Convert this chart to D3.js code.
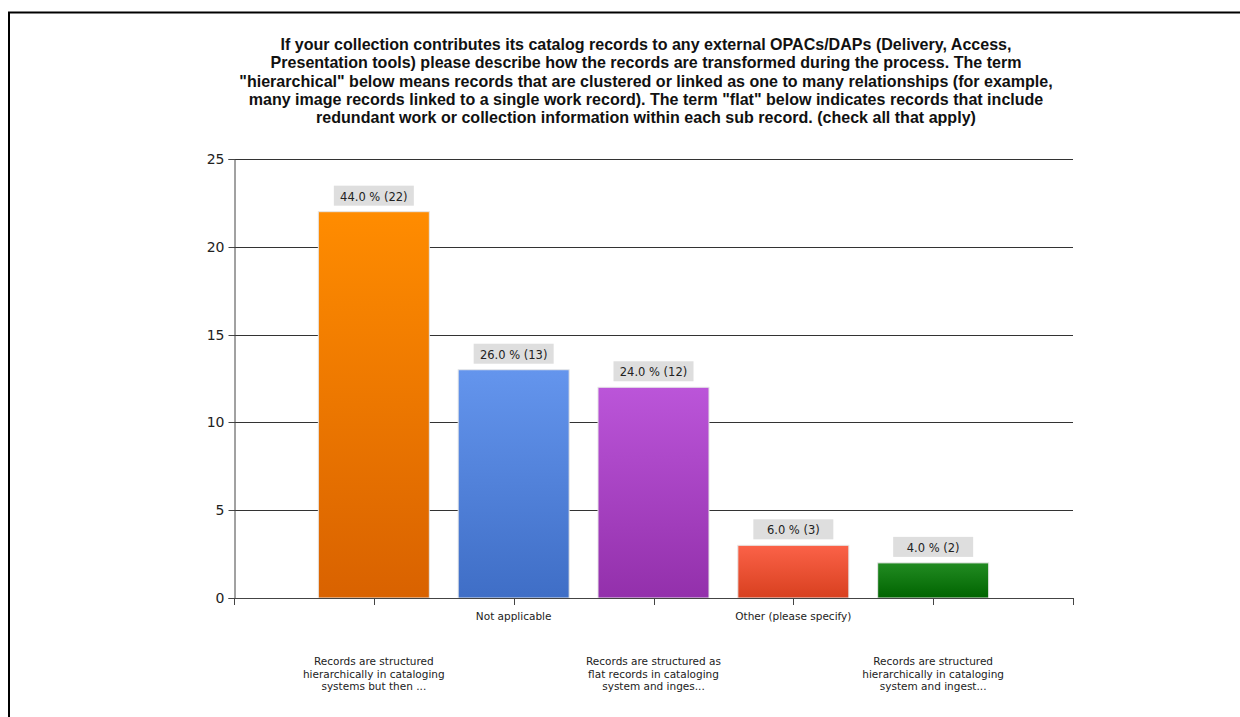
<!DOCTYPE html>
<html><head><meta charset="utf-8">
<script src="https://cdn.jsdelivr.net/npm/d3@7"></script>
<style>body{margin:0;background:#fff}svg{display:block}</style>
</head><body><svg id="c" width="1240" height="717"></svg>
<script>
const titleLines = [
  "If your collection contributes its catalog records to any external OPACs/DAPs (Delivery, Access,",
  "Presentation tools) please describe how the records are transformed during the process. The term",
  "\"hierarchical\" below means records that are clustered or linked as one to many relationships (for example,",
  "many image records linked to a single work record). The term \"flat\" below indicates records that include",
  "redundant work or collection information within each sub record. (check all that apply)"
];
const categories = [
  ["Records are structured", "hierarchically in cataloging", "systems but then ..."],
  ["Not applicable"],
  ["Records are structured as", "flat records in cataloging", "system and inges..."],
  ["Other (please specify)"],
  ["Records are structured", "hierarchically in cataloging", "system and ingest..."]
];
const counts = [22, 13, 12, 3, 2];
const percents = [44.0, 26.0, 24.0, 6.0, 4.0];
const yTicks = [0, 5, 10, 15, 20, 25];
const colors = [["#ff8c00","#d96200"],["#6495ed","#3f6ec6"],["#bb55d9","#9330ab"],["#fb6248","#d8401f"],["#228b22","#006400"]];

const svg = d3.select("#c");
// border
svg.append("path").attr("d","M9,717 V12.5 H1240").attr("fill","none").attr("stroke","#000").attr("stroke-width",2);

const x0 = 234, x1 = 1073, yTop = 159, yBot = 598;
const x = d3.scalePoint().domain(d3.range(categories.length)).range([x0, x1]).padding(1);
const y = d3.scaleLinear().domain([0, 25]).range([yBot, yTop]);
const bw = 111;

// title
const t = svg.append("text").attr("text-anchor","middle").attr("font-family","Liberation Sans, Arial, sans-serif")
  .attr("font-weight","bold").attr("font-size",13).attr("fill","#111");
titleLines.forEach((l,i)=> t.append("tspan").attr("x",646).attr("y",50+i*18.3).text(l));
// fit title width to reference (first line ~ 732px wide)
const w0 = t.select("tspan").node().getComputedTextLength();
t.attr("font-size", 13 * 732 / w0);

// defs gradients
const defs = svg.append("defs");
colors.forEach((c,i)=>{
  const g = defs.append("linearGradient").attr("id","g"+i).attr("x1",0).attr("x2",0).attr("y1",0).attr("y2",1);
  g.append("stop").attr("offset","0%").attr("stop-color",c[0]);
  g.append("stop").attr("offset","100%").attr("stop-color",c[1]);
});

// gridlines
svg.append("g").selectAll("line").data(yTicks.filter(d=>d>0)).join("line")
  .attr("x1",x0).attr("x2",x1).attr("y1",d=>Math.round(y(d))+0.5).attr("y2",d=>Math.round(y(d))+0.5)
  .attr("stroke","#333").attr("stroke-width",1);

// y axis
const ya = svg.append("g").attr("transform",`translate(${x0+0.5},0)`)
  .call(d3.axisLeft(y).tickValues(yTicks).tickSize(6).tickPadding(4).tickFormat(d3.format("d")));
ya.select(".domain").attr("stroke","#444");
ya.selectAll(".tick line").attr("stroke","#444");
ya.selectAll("text").attr("font-family","DejaVu Sans, sans-serif").attr("font-size",14).attr("fill","#222");
ya.selectAll(".tick").attr("transform",d=>`translate(0,${Math.round(y(d))+0.5})`);

// bars
svg.append("g").selectAll("rect").data(counts).join("rect")
  .attr("x",(d,i)=>x(i)-bw/2).attr("width",bw)
  .attr("y",d=>y(d)).attr("height",d=>yBot-y(d))
  .attr("fill",(d,i)=>`url(#g${i})`).attr("stroke","#e6e6e6").attr("stroke-width",1);

// x axis
svg.append("line").attr("x1",x0).attr("x2",x1).attr("y1",yBot+0.5).attr("y2",yBot+0.5).attr("stroke","#444");
const xt = [x0, ...d3.range(categories.length).map(i=>x(i)), x1];
svg.append("g").selectAll("line").data(xt).join("line")
  .attr("x1",d=>Math.round(d)+0.5).attr("x2",d=>Math.round(d)+0.5).attr("y1",yBot).attr("y2",yBot+7).attr("stroke","#444");

// x labels
categories.forEach((lines,i)=>{
  const base = i%2===0 ? 665 : 620;
  const tx = svg.append("text").attr("text-anchor","middle").attr("font-family","DejaVu Sans, sans-serif")
    .attr("font-size",10.5).attr("fill","#222");
  lines.forEach((l,j)=>tx.append("tspan").attr("x",x(i)).attr("y",base+j*12.5).text(l));
});

// value labels
counts.forEach((d,i)=>{
  const txt = `${percents[i].toFixed(1)} % (${d})`;
  const g = svg.append("g");
  g.append("rect").attr("x",x(i)-40).attr("width",80).attr("y",y(d)-26).attr("height",20).attr("fill","#dedede");
  g.append("text").attr("x",x(i)).attr("y",y(d)-11).attr("text-anchor","middle")
    .attr("font-family","DejaVu Sans, sans-serif").attr("font-size",11.5).attr("fill","#222").text(txt);
});
</script></body></html>
